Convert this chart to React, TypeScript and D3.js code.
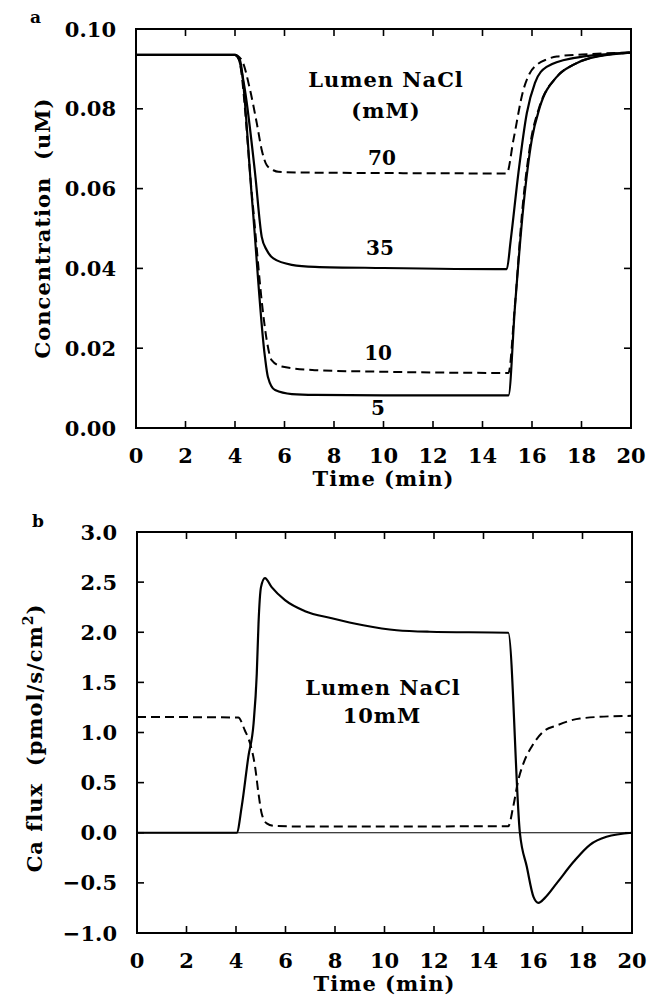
import React from "react";
import * as d3 from "d3";

// ---------- Data ----------
// Panel a: Ca concentration (uM) vs time (min), per lumen NaCl (mM)
const conc70: [number, number][] = [
  [0, 0.0935], [4.0, 0.0935], [4.27, 0.0922], [4.61, 0.0847], [4.88, 0.0764], [5.08, 0.0697],
  [5.28, 0.0659], [5.55, 0.0646], [5.75, 0.0642], [7.2, 0.064], [10, 0.0639], [14.98, 0.0638],
  [15.25, 0.0722], [15.65, 0.0847], [15.9, 0.0888], [16.19, 0.091], [16.6, 0.0924], [17.0, 0.0931],
  [18.34, 0.0937], [20, 0.0941],
];
const conc35: [number, number][] = [
  [0, 0.0935], [4.0, 0.0935], [4.15, 0.0925], [4.4, 0.0847], [4.81, 0.0639], [5.08, 0.0479],
  [5.28, 0.0446], [5.55, 0.0425], [6.29, 0.0409], [7.23, 0.0404], [10, 0.0401], [14.98, 0.0398],
  [15.14, 0.0471], [15.45, 0.0639], [15.79, 0.0789], [16.12, 0.0865], [16.59, 0.0905],
  [17.66, 0.0927], [20, 0.0941],
];
const conc10: [number, number][] = [
  [0, 0.0935], [4.0, 0.0935], [4.15, 0.0925], [4.69, 0.058], [5.15, 0.028], [5.28, 0.0221],
  [5.48, 0.017], [5.89, 0.0154], [7.23, 0.0145], [10, 0.0141], [15.05, 0.0138], [15.3, 0.03],
  [15.62, 0.0554], [15.96, 0.0722], [16.3, 0.0805], [17.0, 0.088], [17.66, 0.091],
  [18.34, 0.0927], [20, 0.0941],
];
const conc5: [number, number][] = [
  [0, 0.0935], [4.0, 0.0935], [4.2, 0.0922], [4.69, 0.0571], [5.21, 0.0178], [5.33, 0.0128],
  [5.62, 0.0095], [6.3, 0.0085], [7.23, 0.0083], [10, 0.0082], [15.05, 0.0082], [15.31, 0.0303],
  [15.65, 0.0554], [15.99, 0.0722], [16.32, 0.0805], [17.0, 0.088], [17.66, 0.091],
  [18.34, 0.0927], [20, 0.0941],
];
const concLabels = [
  { text: "70", t: 9.94, v: 0.0659 },
  { text: "35", t: 9.86, v: 0.0434 },
  { text: "10", t: 9.78, v: 0.017 },
  { text: "5", t: 9.78, v: 0.0033 },
];

// Panel b: Ca flux (pmol/s/cm^2) vs time (min), lumen NaCl 10 mM
const fluxSolid: [number, number][] = [
  [0, 0], [4.03, 0], [4.23, 0.26], [4.5, 0.76], [4.71, 1.09], [4.84, 1.59], [4.91, 2.09],
  [5.01, 2.45], [5.17, 2.54], [5.44, 2.45], [5.98, 2.32], [6.79, 2.21], [7.87, 2.14],
  [9.14, 2.07], [10.49, 2.02], [11.82, 2.005], [15.0, 1.995], [15.47, 0], [15.75, -0.34],
  [16.02, -0.64], [16.22, -0.7], [16.48, -0.65], [16.97, -0.5], [17.64, -0.29], [18.3, -0.12],
  [18.97, -0.04], [20, 0],
];
const fluxDashed: [number, number][] = [
  [0, 1.155], [4.09, 1.15], [4.36, 1.02], [4.57, 0.89], [4.77, 0.66], [4.91, 0.39], [5.04, 0.19],
  [5.24, 0.094], [5.58, 0.067], [6.93, 0.062], [15.0, 0.065], [15.2, 0.26], [15.41, 0.53],
  [15.61, 0.69], [15.95, 0.86], [16.42, 1.01], [16.96, 1.07], [17.9, 1.14], [19.65, 1.165],
  [20, 1.166],
];

const xTicks = [0, 2, 4, 6, 8, 10, 12, 14, 16, 18, 20];
const concTicks = [0, 0.02, 0.04, 0.06, 0.08, 0.1];
const fluxTicks = [-1, -0.5, 0, 0.5, 1, 1.5, 2, 2.5, 3];

const FONT = "'DejaVu Serif', serif";
const TXT = { fontFamily: FONT, fontWeight: "bold" as const, fontSize: 21, letterSpacing: 1 };

function Frame({ x, y, xt, yt, yFmt, xTitle, yTitle, yTitlePos, tickOff, titleOff }: any) {
  const [x0, x1] = x.range();
  const [yb, yt0] = y.range();
  const TL = 7;
  return (
    <g>
      <rect x={x0} y={yt0} width={x1 - x0} height={yb - yt0} fill="none" stroke="#000" strokeWidth={2} />
      {xt.map((t: number) => (
        <g key={"x" + t}>
          <line x1={x(t)} x2={x(t)} y1={yb} y2={yb - TL} stroke="#000" strokeWidth={1.6} />
          <line x1={x(t)} x2={x(t)} y1={yt0} y2={yt0 + TL} stroke="#000" strokeWidth={1.6} />
          <text x={x(t)} y={yb + tickOff} textAnchor="middle" fontFamily={FONT} fontWeight="bold" fontSize={21}>
            {t}
          </text>
        </g>
      ))}
      {yt.map((v: number) => (
        <g key={"y" + v}>
          <line x1={x0} x2={x0 + TL} y1={y(v)} y2={y(v)} stroke="#000" strokeWidth={1.6} />
          <line x1={x1} x2={x1 - TL} y1={y(v)} y2={y(v)} stroke="#000" strokeWidth={1.6} />
          <text x={x0 - 20} y={y(v) + 7.5} textAnchor="end" fontFamily={FONT} fontWeight="bold" fontSize={21}>
            {yFmt(v)}
          </text>
        </g>
      ))}
      <text x={(x0 + x1) / 2} y={yb + titleOff} textAnchor="middle" {...TXT}>
        {xTitle}
      </text>
      <text
        transform={`translate(${yTitlePos.x},${yTitlePos.y}) rotate(-90)`}
        textAnchor="middle"
        {...TXT}
        xmlSpace="preserve"
      >
        {yTitle}
      </text>
    </g>
  );
}

export default function App() {
  const xA = d3.scaleLinear().domain([0, 20]).range([136, 631]);
  const yA = d3.scaleLinear().domain([0, 0.1]).range([428, 29]);
  const xB = d3.scaleLinear().domain([0, 20]).range([137, 632]);
  const yB = d3.scaleLinear().domain([-1, 3]).range([933, 532]);

  const lineA = d3.line<[number, number]>().x((d) => xA(d[0])).y((d) => yA(d[1])).curve(d3.curveMonotoneX);
  const lineB = d3.line<[number, number]>().x((d) => xB(d[0])).y((d) => yB(d[1])).curve(d3.curveMonotoneX);

  const fmtA = (v: number) => d3.format(".2f")(v);
  const fmtB = (v: number) => d3.format(".1f")(v).replace("-", "\u2212");

  return (
    <svg width={658} height={1000} style={{ position: "absolute", left: 0, top: 0, background: "#fff" }}>
      <rect width={658} height={1000} fill="#fff" />
      {/* Panel a */}
      <text x={30} y={23} fontFamily={FONT} fontWeight="bold" fontSize={17}>a</text>
      <Frame
        x={xA}
        y={yA}
        xt={xTicks}
        yt={concTicks}
        yFmt={fmtA}
        xTitle="Time (min)"
        yTitle={"Concentration  (uM)"}
        yTitlePos={{ x: 50, y: 228 }}
        tickOff={35}
        titleOff={58}
      />
      <path d={lineA(conc70) || ""} fill="none" stroke="#000" strokeWidth={2} strokeDasharray="9,5" />
      <path d={lineA(conc35) || ""} fill="none" stroke="#000" strokeWidth={2.2} />
      <path d={lineA(conc10) || ""} fill="none" stroke="#000" strokeWidth={2} strokeDasharray="9,5" />
      <path d={lineA(conc5) || ""} fill="none" stroke="#000" strokeWidth={2.2} />
      <text x={386} y={87} textAnchor="middle" {...TXT}>Lumen NaCl</text>
      <text x={386} y={118} textAnchor="middle" {...TXT}>(mM)</text>
      {concLabels.map((l) => (
        <text key={l.text} x={xA(l.t)} y={yA(l.v)} textAnchor="middle" fontFamily={FONT} fontWeight="bold" fontSize={20}>
          {l.text}
        </text>
      ))}

      {/* Panel b */}
      <text x={32} y={527} fontFamily={FONT} fontWeight="bold" fontSize={17}>b</text>
      <Frame
        x={xB}
        y={yB}
        xt={xTicks}
        yt={fluxTicks}
        yFmt={fmtB}
        xTitle="Time (min)"
        yTitle={
          <>
            {"Ca flux  (pmol/s/cm"}
            <tspan dy={-9} fontSize={14}>2</tspan>
            <tspan dy={9}>)</tspan>
          </>
        }
        yTitlePos={{ x: 42, y: 738 }}
        tickOff={35}
        titleOff={58}
      />
      <line x1={xB(0)} x2={xB(20)} y1={yB(0)} y2={yB(0)} stroke="#000" strokeWidth={1.2} />
      <path d={lineB(fluxDashed) || ""} fill="none" stroke="#000" strokeWidth={2} strokeDasharray="9,5" />
      <path d={lineB(fluxSolid) || ""} fill="none" stroke="#000" strokeWidth={2.2} />
      <text x={383} y={695} textAnchor="middle" {...TXT}>Lumen NaCl</text>
      <text x={382} y={723} textAnchor="middle" {...TXT}>10mM</text>
    </svg>
  );
}
